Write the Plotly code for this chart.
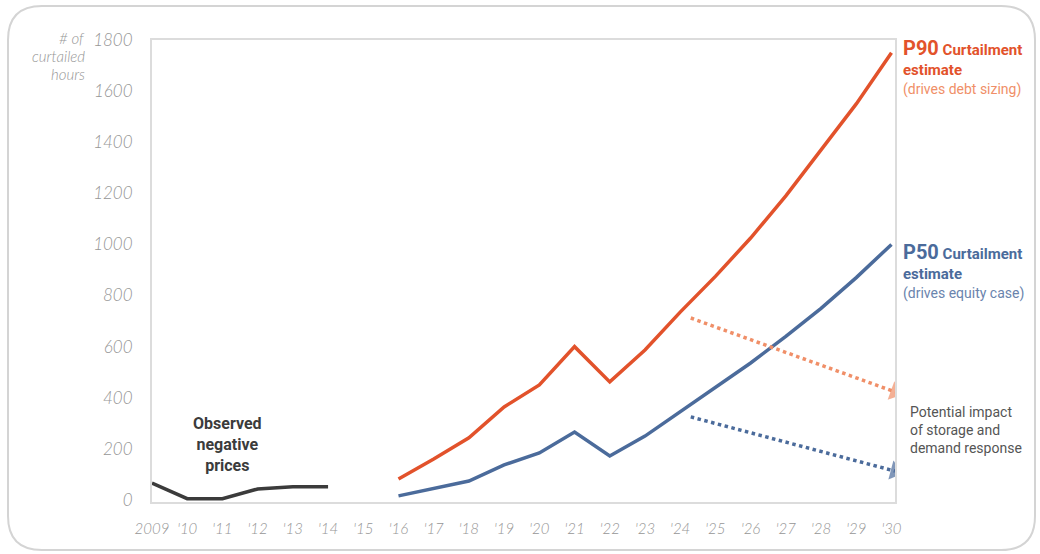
import plotly.graph_objects as go

# ---- data -------------------------------------------------------------
years_obs = [2009, 2010, 2011, 2012, 2013, 2014]
observed = [66, 5, 5, 43, 52, 52]

years_est = list(range(2016, 2031))
p90 = [82, 160, 243, 364, 450, 600, 462, 587, 735, 875, 1025, 1190, 1370, 1550, 1750]
p50 = [16, 45, 74, 137, 184, 266, 172, 250, 345, 442, 536, 640, 750, 870, 1000]

# storage / demand-response impact paths (start, end)
impact_x = [2024.3, 2030.1]
impact_p90 = [712, 423]
impact_p50 = [325, 113]

tick_years = list(range(2009, 2031))
tick_text = ["2009"] + ["'" + str(y)[2:] for y in tick_years[1:]]
y_ticks = list(range(0, 1801, 200))
y_title_lines = ["# of", "curtailed", "hours"]

# ---- colours ----------------------------------------------------------
RED = "#e2522b"
RED_LIGHT = "#f08f68"
BLUE = "#4b6b9b"
DARK = "#3b3b3b"
GREY = "#969696"
FRAME = "#dcdcdc"
NARROW = "Roboto, sans-serif"
LIGHT = "Lato, Open Sans, sans-serif"

fig = go.Figure()

fig.add_trace(go.Scatter(x=years_obs, y=observed, mode="lines",
                         line=dict(color=DARK, width=3.5), hoverinfo="skip"))
fig.add_trace(go.Scatter(x=years_est, y=p90, mode="lines",
                         line=dict(color=RED, width=3.5), hoverinfo="skip"))
fig.add_trace(go.Scatter(x=years_est, y=p50, mode="lines",
                         line=dict(color=BLUE, width=3.5), hoverinfo="skip"))

for ys, col in [(impact_p90, RED_LIGHT), (impact_p50, BLUE)]:
    fig.add_trace(go.Scatter(
        x=impact_x, y=ys, mode="lines+markers",
        line=dict(color=col, width=3.5, dash="dot"),
        marker=dict(symbol=["circle", "triangle-up"], size=[0, 17], color=col,
                    angleref="previous", line=dict(width=0)),
        hoverinfo="skip"))

# ---- layout geometry --------------------------------------------------
W, H = 1040, 554
L, R, T, B = 152, 895, 40, 502


def px(x):
    return (x - L) / (R - L)


def py(y):
    return (B - y) / (B - T)


# outer rounded panel
x0, x1, y0, y1, r = 8, 1035, 6, 550, 34
rx = r / (R - L)
ry = r / (B - T)
X0, X1, Y0, Y1 = px(x0), px(x1), py(y0), py(y1)
path = (f"M {X0 + rx} {Y0} L {X1 - rx} {Y0} Q {X1} {Y0} {X1} {Y0 - ry} "
        f"L {X1} {Y1 + ry} Q {X1} {Y1} {X1 - rx} {Y1} "
        f"L {X0 + rx} {Y1} Q {X0} {Y1} {X0} {Y1 + ry} "
        f"L {X0} {Y0 - ry} Q {X0} {Y0} {X0 + rx} {Y0} Z")

shapes = [dict(type="path", xref="paper", yref="paper", path=path,
               line=dict(color="#d4d4d4", width=2), layer="below")]

# stacked axis title, tightly spaced lines
annotations = [
    dict(x=px(87), y=py(38 + 18 * i), xref="paper", yref="paper",
         xanchor="right", yanchor="middle", showarrow=False, text=line,
         font=dict(family=LIGHT, size=15, color=GREY, style="italic", weight=300))
    for i, line in enumerate(y_title_lines)
]

annotations += [
    dict(x=2011.15, y=345, xanchor="center", yanchor="top", showarrow=False,
         text="<b>Observed<br>negative<br>prices</b>",
         font=dict(family=NARROW, size=16, color=DARK)),
    dict(x=px(901), y=py(34), xref="paper", yref="paper", xanchor="left", yanchor="top",
         align="left", showarrow=False,
         text=("<b><span style='font-size:20px'>P90</span> Curtailment<br>estimate</b><br>"
               f"<span style='color:{RED_LIGHT};font-size:14px'>(drives debt sizing)</span>"),
         font=dict(family=NARROW, size=15, color=RED)),
    dict(x=px(901), y=py(238), xref="paper", yref="paper", xanchor="left", yanchor="top",
         align="left", showarrow=False,
         text=("<b><span style='font-size:20px'>P50</span> Curtailment<br>estimate</b><br>"
               "<span style='color:#6a84ad;font-size:14px'>(drives equity case)</span>"),
         font=dict(family=NARROW, size=15, color=BLUE)),
    dict(x=px(908), y=py(402), xref="paper", yref="paper", xanchor="left", yanchor="top",
         align="left", showarrow=False,
         text="Potential impact<br>of storage and<br>demand response",
         font=dict(family=NARROW, size=14, color="#555555")),
]

fig.update_layout(
    width=W, height=H,
    margin=dict(l=L, r=W - R, t=T, b=H - B),
    paper_bgcolor="white", plot_bgcolor="white",
    showlegend=False,
    shapes=shapes,
    annotations=annotations,
    xaxis=dict(range=[2009, 2030.1], tickmode="array", tickvals=tick_years,
               ticktext=tick_text, showgrid=False, zeroline=False,
               showline=True, mirror=True, linecolor=FRAME, linewidth=2,
               ticks="", ticklabelstandoff=12,
               tickfont=dict(family=LIGHT, size=15, color=GREY, style="italic", weight=300)),
    yaxis=dict(range=[-8, 1800], tickmode="array", tickvals=y_ticks,
               showgrid=False, zeroline=False,
               showline=True, mirror=True, linecolor=FRAME, linewidth=2,
               ticks="", ticklabelstandoff=14,
               tickfont=dict(family=LIGHT, size=17, color=GREY, style="italic", weight=300)),
)

fig.write_html("out.html")
